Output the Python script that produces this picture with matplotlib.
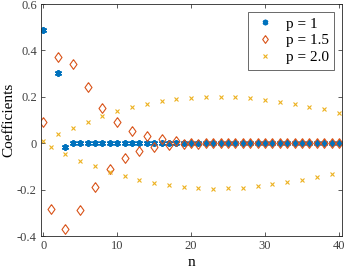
import numpy as np
import matplotlib.pyplot as plt

plt.rcParams["font.family"] = ["Liberation Serif", "DejaVu Serif"]

n = np.arange(41)

# p = 1 (n = 1 has no visible point)
coef_p1 = [0.489, np.nan, 0.301, -0.018] + [0.0] * 37

# p = 1.5
coef_p15 = [0.093, -0.282, 0.370, -0.371, 0.341, -0.288, 0.241, -0.190,
            0.153, -0.113, 0.091, -0.065, 0.053, -0.034, 0.031, -0.018,
            0.017, -0.009, 0.009, -0.003, 0.003, -0.002, 0.002, -0.001,
            0.001, -0.001, 0.001, -0.001, 0.001, -0.001, 0.001, -0.001,
            0.001, -0.001, 0.001, -0.001, 0.001, -0.001, 0.001, -0.001,
            0.001]

# p = 2.0
coef_p2 = [0.008, -0.018, 0.038, -0.047, 0.067, -0.077, 0.093, -0.098,
           0.117, -0.123, 0.137, -0.140, 0.155, -0.159, 0.170, -0.170,
           0.182, -0.180, 0.190, -0.187, 0.196, -0.193, 0.200, -0.196,
           0.200, -0.194, 0.198, -0.192, 0.193, -0.186, 0.188, -0.177,
           0.179, -0.169, 0.169, -0.159, 0.158, -0.147, 0.146, -0.131,
           0.130]

blue = "#0072BD"
orange = "#D95319"
yellow = "#EDB120"

# slightly tall diamond, like MATLAB's 'd'
diamond = [(0, 1), (0.72, 0), (0, -1), (-0.72, 0), (0, 1)]

fig = plt.figure(figsize=(3.45, 2.71), dpi=100)
ax = fig.add_axes([0.119, 0.129, 0.872, 0.856])

# asterisk-like marker, as in MATLAB
ax.plot(n, coef_p1, linestyle="", marker=(6, 2, 0), markersize=5,
        markeredgewidth=1.3, color=blue, label="p = 1")
ax.plot(n, coef_p15, linestyle="", marker=diamond, markersize=7,
        markerfacecolor="none", markeredgewidth=0.8, color=orange,
        label="p = 1.5")
ax.plot(n, coef_p2, linestyle="", marker="x", markersize=3.3,
        markeredgewidth=0.8, color=yellow, label="p = 2.0")

ax.set_xlim(-0.3, 40.4)
ax.set_ylim(-0.4, 0.6)
ax.set_xticks([0, 10, 20, 30, 40])
ax.set_yticks([-0.4, -0.2, 0, 0.2, 0.4, 0.6])
ax.set_yticklabels(["-0.4", "-0.2", "0", "0.2", "0.4", "0.6"])
ax.tick_params(direction="in", top=True, right=True, length=3, width=0.6,
               labelsize=9, colors="#404040", pad=3)
for spine in ax.spines.values():
    spine.set_linewidth(0.6)
    spine.set_color("#262626")

ax.set_xlabel("n", fontsize=11, labelpad=3)
ax.set_ylabel("Coefficients", fontsize=11, labelpad=1)

leg = ax.legend(loc="upper right", fontsize=11, frameon=True, fancybox=False,
                edgecolor="#262626", handlelength=1.5, handletextpad=0.6,
                borderpad=0.35, labelspacing=0.2, borderaxespad=0.5,
                markerscale=0.8)
leg.get_frame().set_linewidth(0.6)

fig.savefig("out.png", dpi=100)
